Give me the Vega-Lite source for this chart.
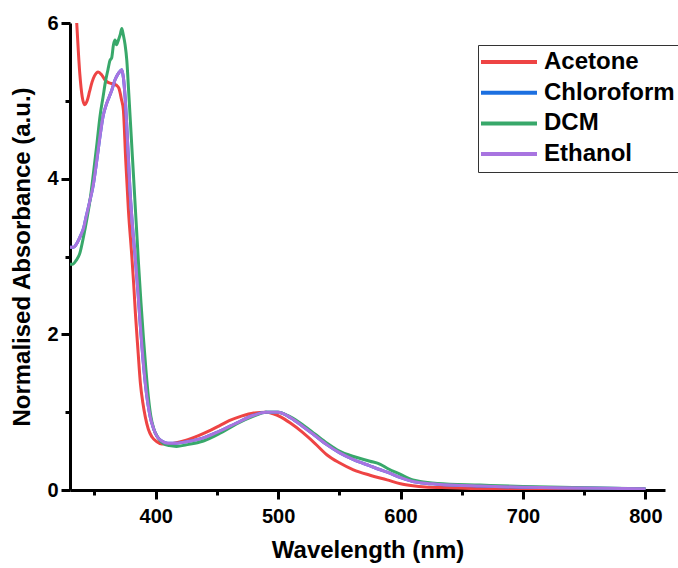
{
"$schema": "https://vega.github.io/schema/vega-lite/v6.json",
"autosize": "none",
"width": 595,
"height": 467,
"padding": {"left": 70, "top": 23, "right": 13, "bottom": 78},
"background": "white",
"config": {"view": {"stroke": null}, "font": "Liberation Sans"},
"datasets": {
"spectra": [
{"s":"Acetone","w":331,"a":7.6},{"s":"Acetone","w":333,"a":6.7},{"s":"Acetone","w":335.5,"a":6.0},{"s":"Acetone","w":338,"a":5.35},{"s":"Acetone","w":340,"a":5.05},{"s":"Acetone","w":342,"a":4.95},{"s":"Acetone","w":344,"a":5.0},{"s":"Acetone","w":346,"a":5.12},{"s":"Acetone","w":348,"a":5.24},{"s":"Acetone","w":350,"a":5.32},{"s":"Acetone","w":353,"a":5.37},{"s":"Acetone","w":356,"a":5.33},{"s":"Acetone","w":359,"a":5.26},{"s":"Acetone","w":362,"a":5.23},{"s":"Acetone","w":365,"a":5.22},{"s":"Acetone","w":368,"a":5.2},{"s":"Acetone","w":370,"a":5.16},{"s":"Acetone","w":372,"a":5.02},{"s":"Acetone","w":373.6,"a":4.88},{"s":"Acetone","w":375.5,"a":4.24},{"s":"Acetone","w":377.7,"a":3.6},{"s":"Acetone","w":380.5,"a":3.0},{"s":"Acetone","w":382,"a":2.65},{"s":"Acetone","w":383.5,"a":2.25},{"s":"Acetone","w":385.5,"a":1.8},{"s":"Acetone","w":387.5,"a":1.37},{"s":"Acetone","w":389.5,"a":1.12},{"s":"Acetone","w":391.5,"a":0.94},{"s":"Acetone","w":394,"a":0.78},{"s":"Acetone","w":397,"a":0.68},{"s":"Acetone","w":401,"a":0.62},{"s":"Acetone","w":405,"a":0.59},{"s":"Acetone","w":410,"a":0.59},{"s":"Acetone","w":415,"a":0.6},{"s":"Acetone","w":425,"a":0.64},{"s":"Acetone","w":435,"a":0.7},{"s":"Acetone","w":445,"a":0.77},{"s":"Acetone","w":452.6,"a":0.83},{"s":"Acetone","w":460,"a":0.89},{"s":"Acetone","w":470,"a":0.95},{"s":"Acetone","w":480,"a":0.99},{"s":"Acetone","w":490,"a":1.0},{"s":"Acetone","w":496,"a":0.98},{"s":"Acetone","w":502,"a":0.94},{"s":"Acetone","w":510,"a":0.86},{"s":"Acetone","w":520,"a":0.74},{"s":"Acetone","w":530,"a":0.6},{"s":"Acetone","w":540,"a":0.45},{"s":"Acetone","w":550,"a":0.35},{"s":"Acetone","w":561.5,"a":0.26},{"s":"Acetone","w":575,"a":0.19},{"s":"Acetone","w":589,"a":0.13},{"s":"Acetone","w":600,"a":0.08},{"s":"Acetone","w":610,"a":0.055},{"s":"Acetone","w":620,"a":0.04},{"s":"Acetone","w":640,"a":0.03},{"s":"Acetone","w":665,"a":0.02},{"s":"Acetone","w":700,"a":0.02},{"s":"Acetone","w":750,"a":0.01},{"s":"Acetone","w":800,"a":0.005},

{"s":"Chloroform","w":330,"a":3.12},{"s":"Chloroform","w":333,"a":3.12},{"s":"Chloroform","w":336,"a":3.18},{"s":"Chloroform","w":339,"a":3.28},{"s":"Chloroform","w":341,"a":3.36},{"s":"Chloroform","w":343,"a":3.5},{"s":"Chloroform","w":346,"a":3.7},{"s":"Chloroform","w":349,"a":3.92},{"s":"Chloroform","w":352,"a":4.25},{"s":"Chloroform","w":355,"a":4.6},{"s":"Chloroform","w":357,"a":4.8},{"s":"Chloroform","w":359,"a":4.92},{"s":"Chloroform","w":362,"a":5.05},{"s":"Chloroform","w":364,"a":5.13},{"s":"Chloroform","w":366.8,"a":5.27},{"s":"Chloroform","w":369,"a":5.34},{"s":"Chloroform","w":370.9,"a":5.38},{"s":"Chloroform","w":372.3,"a":5.4},{"s":"Chloroform","w":373.6,"a":5.3},{"s":"Chloroform","w":375,"a":5.05},{"s":"Chloroform","w":376.4,"a":4.67},{"s":"Chloroform","w":379,"a":3.85},{"s":"Chloroform","w":381,"a":3.4},{"s":"Chloroform","w":383.5,"a":2.95},{"s":"Chloroform","w":385.5,"a":2.55},{"s":"Chloroform","w":387.5,"a":2.1},{"s":"Chloroform","w":389.5,"a":1.7},{"s":"Chloroform","w":391.5,"a":1.37},{"s":"Chloroform","w":393.5,"a":1.12},{"s":"Chloroform","w":395.5,"a":0.94},{"s":"Chloroform","w":398,"a":0.8},{"s":"Chloroform","w":401,"a":0.69},{"s":"Chloroform","w":405,"a":0.63},{"s":"Chloroform","w":410,"a":0.6},{"s":"Chloroform","w":415,"a":0.6},{"s":"Chloroform","w":425,"a":0.62},{"s":"Chloroform","w":439,"a":0.67},{"s":"Chloroform","w":452.6,"a":0.76},{"s":"Chloroform","w":466,"a":0.86},{"s":"Chloroform","w":480,"a":0.96},{"s":"Chloroform","w":490,"a":1.0},{"s":"Chloroform","w":500,"a":1.0},{"s":"Chloroform","w":510,"a":0.93},{"s":"Chloroform","w":520.8,"a":0.81},{"s":"Chloroform","w":530,"a":0.7},{"s":"Chloroform","w":540,"a":0.58},{"s":"Chloroform","w":550,"a":0.48},{"s":"Chloroform","w":561.6,"a":0.39},{"s":"Chloroform","w":575,"a":0.31},{"s":"Chloroform","w":583.5,"a":0.26},{"s":"Chloroform","w":589,"a":0.23},{"s":"Chloroform","w":600,"a":0.16},{"s":"Chloroform","w":610,"a":0.11},{"s":"Chloroform","w":616,"a":0.094},{"s":"Chloroform","w":630,"a":0.075},{"s":"Chloroform","w":665,"a":0.05},{"s":"Chloroform","w":700,"a":0.035},{"s":"Chloroform","w":750,"a":0.025},{"s":"Chloroform","w":800,"a":0.015},

{"s":"DCM","w":330,"a":2.9},{"s":"DCM","w":332,"a":2.9},{"s":"DCM","w":335,"a":2.95},{"s":"DCM","w":338,"a":3.04},{"s":"DCM","w":341,"a":3.25},{"s":"DCM","w":344,"a":3.5},{"s":"DCM","w":346.4,"a":3.73},{"s":"DCM","w":349,"a":4.05},{"s":"DCM","w":352,"a":4.45},{"s":"DCM","w":354.5,"a":4.8},{"s":"DCM","w":357,"a":5.05},{"s":"DCM","w":359,"a":5.25},{"s":"DCM","w":361,"a":5.4},{"s":"DCM","w":362.7,"a":5.52},{"s":"DCM","w":364,"a":5.55},{"s":"DCM","w":365.5,"a":5.72},{"s":"DCM","w":366.8,"a":5.78},{"s":"DCM","w":368,"a":5.72},{"s":"DCM","w":369.5,"a":5.78},{"s":"DCM","w":371,"a":5.85},{"s":"DCM","w":372.3,"a":5.93},{"s":"DCM","w":373.5,"a":5.85},{"s":"DCM","w":375,"a":5.72},{"s":"DCM","w":376.4,"a":5.52},{"s":"DCM","w":378,"a":5.1},{"s":"DCM","w":380,"a":4.55},{"s":"DCM","w":382,"a":4.0},{"s":"DCM","w":384,"a":3.45},{"s":"DCM","w":386,"a":2.9},{"s":"DCM","w":388,"a":2.4},{"s":"DCM","w":390,"a":1.95},{"s":"DCM","w":392,"a":1.55},{"s":"DCM","w":394,"a":1.2},{"s":"DCM","w":396,"a":0.95},{"s":"DCM","w":398.5,"a":0.78},{"s":"DCM","w":402,"a":0.67},{"s":"DCM","w":406,"a":0.6},{"s":"DCM","w":411,"a":0.57},{"s":"DCM","w":417,"a":0.56},{"s":"DCM","w":425,"a":0.58},{"s":"DCM","w":439,"a":0.63},{"s":"DCM","w":452.6,"a":0.73},{"s":"DCM","w":466,"a":0.85},{"s":"DCM","w":480,"a":0.95},{"s":"DCM","w":490,"a":1.0},{"s":"DCM","w":500,"a":1.0},{"s":"DCM","w":510,"a":0.94},{"s":"DCM","w":520.8,"a":0.83},{"s":"DCM","w":530,"a":0.72},{"s":"DCM","w":540,"a":0.6},{"s":"DCM","w":550,"a":0.5},{"s":"DCM","w":561.6,"a":0.43},{"s":"DCM","w":575,"a":0.37},{"s":"DCM","w":583.5,"a":0.33},{"s":"DCM","w":589,"a":0.28},{"s":"DCM","w":600,"a":0.2},{"s":"DCM","w":610,"a":0.13},{"s":"DCM","w":616,"a":0.11},{"s":"DCM","w":630,"a":0.085},{"s":"DCM","w":665,"a":0.064},{"s":"DCM","w":700,"a":0.045},{"s":"DCM","w":750,"a":0.03},{"s":"DCM","w":800,"a":0.015},

{"s":"Ethanol","w":330,"a":3.12},{"s":"Ethanol","w":333,"a":3.12},{"s":"Ethanol","w":336,"a":3.18},{"s":"Ethanol","w":339,"a":3.28},{"s":"Ethanol","w":341,"a":3.36},{"s":"Ethanol","w":343,"a":3.5},{"s":"Ethanol","w":346,"a":3.7},{"s":"Ethanol","w":349,"a":3.92},{"s":"Ethanol","w":352,"a":4.25},{"s":"Ethanol","w":355,"a":4.6},{"s":"Ethanol","w":357,"a":4.8},{"s":"Ethanol","w":359,"a":4.92},{"s":"Ethanol","w":362,"a":5.05},{"s":"Ethanol","w":364,"a":5.13},{"s":"Ethanol","w":366.8,"a":5.27},{"s":"Ethanol","w":369,"a":5.34},{"s":"Ethanol","w":370.9,"a":5.38},{"s":"Ethanol","w":372.3,"a":5.4},{"s":"Ethanol","w":373.6,"a":5.3},{"s":"Ethanol","w":375,"a":5.05},{"s":"Ethanol","w":376.4,"a":4.67},{"s":"Ethanol","w":379,"a":3.85},{"s":"Ethanol","w":381,"a":3.4},{"s":"Ethanol","w":383.5,"a":2.95},{"s":"Ethanol","w":385.5,"a":2.55},{"s":"Ethanol","w":387.5,"a":2.1},{"s":"Ethanol","w":389.5,"a":1.7},{"s":"Ethanol","w":391.5,"a":1.37},{"s":"Ethanol","w":393.5,"a":1.12},{"s":"Ethanol","w":395.5,"a":0.94},{"s":"Ethanol","w":398,"a":0.8},{"s":"Ethanol","w":401,"a":0.69},{"s":"Ethanol","w":405,"a":0.63},{"s":"Ethanol","w":410,"a":0.6},{"s":"Ethanol","w":415,"a":0.6},{"s":"Ethanol","w":425,"a":0.62},{"s":"Ethanol","w":439,"a":0.67},{"s":"Ethanol","w":452.6,"a":0.76},{"s":"Ethanol","w":466,"a":0.86},{"s":"Ethanol","w":480,"a":0.96},{"s":"Ethanol","w":490,"a":1.0},{"s":"Ethanol","w":500,"a":1.0},{"s":"Ethanol","w":510,"a":0.93},{"s":"Ethanol","w":520.8,"a":0.81},{"s":"Ethanol","w":530,"a":0.7},{"s":"Ethanol","w":540,"a":0.58},{"s":"Ethanol","w":550,"a":0.48},{"s":"Ethanol","w":561.6,"a":0.39},{"s":"Ethanol","w":575,"a":0.31},{"s":"Ethanol","w":583.5,"a":0.26},{"s":"Ethanol","w":589,"a":0.23},{"s":"Ethanol","w":600,"a":0.16},{"s":"Ethanol","w":610,"a":0.11},{"s":"Ethanol","w":616,"a":0.094},{"s":"Ethanol","w":630,"a":0.075},{"s":"Ethanol","w":665,"a":0.05},{"s":"Ethanol","w":700,"a":0.035},{"s":"Ethanol","w":750,"a":0.025},{"s":"Ethanol","w":800,"a":0.015}
]
},
"data": {"name": "spectra"},
"resolve": {"axis": {"x": "independent", "y": "independent"}},
"layer": [
{
"mark": {"type": "point", "opacity": 0, "size": 1},
"encoding": {
"x": {"field": "w", "type": "quantitative", "scale": {"domain": [330, 816], "nice": false, "zero": false},
"axis": {"orient": "bottom", "values": [350, 450, 550, 650, 750], "labels": false, "domain": false, "grid": false, "tickSize": 5, "tickWidth": 3, "tickColor": "black", "title": null}},
"y": {"field": "a", "type": "quantitative", "scale": {"domain": [0, 6], "nice": false},
"axis": {"orient": "left", "values": [1, 3, 5], "labels": false, "domain": false, "grid": false, "tickSize": 5, "tickWidth": 3, "tickColor": "black", "title": null}}
}
},
{
"mark": {"type": "line", "clip": true, "strokeWidth": 3, "interpolate": "monotone"},
"encoding": {
"x": {"field": "w", "type": "quantitative",
"axis": {"orient": "bottom", "values": [400, 500, 600, 700, 800], "grid": false, "domainColor": "black", "domainWidth": 3, "tickColor": "black", "tickWidth": 3, "tickSize": 9, "labelFont": "Liberation Sans", "labelFontWeight": "bold", "labelFontSize": 20, "labelColor": "black", "labelPadding": 7, "title": "Wavelength (nm)", "titleFont": "Liberation Sans", "titleFontSize": 24, "titleFontWeight": "bold", "titleColor": "black", "titlePadding": 12}},
"y": {"field": "a", "type": "quantitative",
"axis": {"orient": "left", "values": [0, 2, 4, 6], "grid": false, "domainColor": "black", "domainWidth": 3, "tickColor": "black", "tickWidth": 3, "tickSize": 9, "labelFont": "Liberation Sans", "labelFontWeight": "bold", "labelFontSize": 20, "labelColor": "black", "labelPadding": 3, "title": "Normalised Absorbance (a.u.)", "titleFont": "Liberation Sans", "titleFontSize": 24, "titleFontWeight": "bold", "titleColor": "black", "titlePadding": 12}},
"color": {"field": "s", "type": "nominal",
"scale": {"domain": ["Acetone", "Chloroform", "DCM", "Ethanol"], "range": ["#ee4444", "#1c6fe0", "#38a86a", "#a874e0"]},
"legend": {"title": null, "orient": "none", "legendX": 408, "legendY": 22, "symbolType": "M-3.5,0H10.5", "symbolSize": 64, "symbolStrokeWidth": 4, "labelFont": "Liberation Sans", "labelFontSize": 24, "labelFontWeight": "bold", "labelColor": "black", "labelOffset": 37, "rowPadding": 6.7, "padding": 5, "strokeColor": "#333333"}}
}
}
]
}
